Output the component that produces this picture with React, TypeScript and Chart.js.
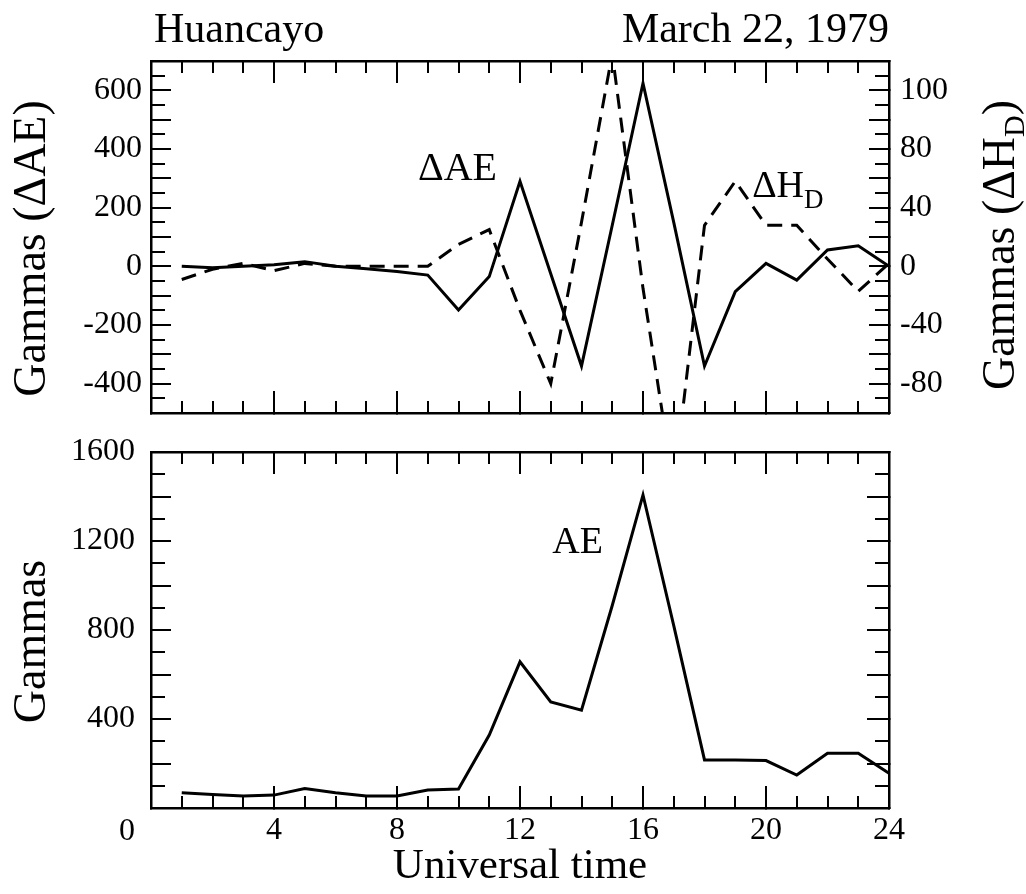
import React, { useEffect, useRef } from "react";
import { Chart, registerables } from "chart.js";

Chart.register(...registerables);

// ---------------- data ----------------
const hours = [1, 2, 3, 4, 5, 6, 7, 8, 9, 10, 11, 12, 13, 14, 15, 16, 17, 18, 19, 20, 21, 22, 23, 24];
const deltaAE = [0, -5, 0, 5, 16, 0, -8, -18, -30, -149, -35, 290, -25, -340, 140, 624, 150, -340, -86, 10, -47, 56, 70, 0];
const deltaHD = [-9, -2, 2, -3, 2, 0, 0, 0, 0, 15, 25, -30, -80, 30, 145, -15, -150, 28, 58, 28, 28, 5, -17, 2];
const aeValues = [69, 61, 54, 58, 88, 69, 54, 54, 81, 85, 328, 657, 477, 440, 910, 1407, 820, 216, 216, 213, 148, 246, 246, 156];

const xTickValues = [4, 8, 12, 16, 20, 24];
const xTickLabels = ["4", "8", "12", "16", "20", "24"];
const dAETickValues = [-400, -200, 0, 200, 400, 600];
const dAETickLabels = ["-400", "-200", "0", "200", "400", "600"];
const dHTickValues = [-80, -40, 0, 40, 80, 120];
const dHTickLabels = ["-80", "-40", "0", "40", "80", "100"];
const aeTickValues = [0, 400, 800, 1200, 1600];
const aeTickLabels = ["0", "400", "800", "1200", "1600"];

const stationLabel = "Huancayo";
const dateLabel = "March 22, 1979";
const xTitle = "Universal time";
const topLeftTitle = "Gammas (\u0394AE)";
const bottomLeftTitle = "Gammas";
const rightTitleMain = "Gammas (\u0394H";
const rightTitleSub = "D";
const rightTitleEnd = ")";
const dAELabel = "\u0394AE";
const dHLabel = "\u0394H";
const dHLabelSub = "D";
const aeLabel = "AE";

// ---------------- styling ----------------
const FONT = "'Liberation Serif', 'Times New Roman', serif";
const TICK_SIZE = 32;
const TITLE_SIZE = 46;
const HEADER_SIZE = 42;
const NOTE_SIZE = 38;
// trailing spacing nudges the centred rotated titles slightly downward, as in the original
const TITLE_NUDGE = "  ";

type Labels = { values: number[]; texts: string[] } | null;

function makeAxis(c: {
  axis: "x" | "y";
  position: string;
  min: number;
  max: number;
  step: number;
  len: number;
  size: number;
  weight: number;
  border?: boolean;
  labels?: Labels;
  labelPad?: number;
  title?: { text: string; size: number; pad: any } | null;
  lowerZero?: boolean;
}) {
  const labels = c.labels || null;
  return {
    type: "linear",
    axis: c.axis,
    position: c.position,
    min: c.min,
    max: c.max,
    weight: c.weight,
    afterFit: (s: any) => {
      if (c.axis === "x") s.height = c.size;
      else s.width = c.size;
      s.paddingTop = 0;
      s.paddingBottom = 0;
      s.paddingLeft = 0;
      s.paddingRight = 0;
    },
    grid: {
      display: true,
      drawOnChartArea: false,
      drawTicks: true,
      tickLength: -c.len,
      color: "#000",
      tickColor: "#000",
      lineWidth: 2,
      tickWidth: 2,
    },
    border: { display: !!c.border, color: "#000", width: 2.5 },
    ticks: {
      stepSize: c.step,
      autoSkip: false,
      maxRotation: 0,
      minRotation: 0,
      display: !!labels,
      padding: c.labelPad ?? 0,
      color: "#000",
      font: { family: FONT, size: TICK_SIZE, lineHeight: 1.45 },
      callback: (v: number) => {
        if (!labels) return "";
        const i = labels.values.indexOf(v);
        if (i < 0) return "";
        if (c.lowerZero && v === 0) return ["", labels.texts[i]];
        return labels.texts[i];
      },
    },
    title: c.title
      ? {
          display: true,
          text: c.title.text,
          color: "#000",
          font: { family: FONT, size: c.title.size, lineHeight: 1.2 },
          padding: c.title.pad,
        }
      : { display: false },
  };
}

function textPlugin(id: string, draw: (chart: any, ctx: CanvasRenderingContext2D) => void) {
  return {
    id,
    afterDraw(chart: any) {
      const ctx = chart.ctx as CanvasRenderingContext2D;
      ctx.save();
      ctx.fillStyle = "#000";
      draw(chart, ctx);
      ctx.restore();
    },
  };
}

const W = 1026;
const TOP_H = 432;
const BOT_H = 462;
const PLOT_LEFT = 151;
const PLOT_RIGHT = 889;

function topConfig(): any {
  return {
    type: "line",
    data: {
      labels: hours,
      datasets: [
        {
          label: "\u0394AE",
          data: hours.map((h, i) => ({ x: h, y: deltaAE[i] })),
          xAxisID: "x",
          yAxisID: "y",
          borderColor: "#000",
          borderWidth: 3,
          pointRadius: 0,
          tension: 0,
          clip: 0,
        },
        {
          label: "\u0394HD",
          data: hours.map((h, i) => ({ x: h, y: deltaHD[i] })),
          xAxisID: "x",
          yAxisID: "y2",
          borderColor: "#000",
          borderWidth: 3,
          borderDash: [15, 9],
          pointRadius: 0,
          tension: 0,
          clip: 0,
        },
      ],
    },
    options: {
      responsive: false,
      animation: false,
      events: [],
      layout: { padding: 0 },
      plugins: { legend: { display: false }, tooltip: { enabled: false }, title: { display: false } },
      scales: {
        x: makeAxis({ axis: "x", position: "bottom", min: 0, max: 24, step: 4, len: 22, size: TOP_H - 413, weight: 1, border: true }),
        xMinor: makeAxis({ axis: "x", position: "bottom", min: 0, max: 24, step: 1, len: 12, size: 0, weight: 0 }),
        xTop: makeAxis({ axis: "x", position: "top", min: 0, max: 24, step: 4, len: 22, size: 61, weight: 1, border: true }),
        xTopMinor: makeAxis({ axis: "x", position: "top", min: 0, max: 24, step: 1, len: 12, size: 0, weight: 0 }),
        y: makeAxis({
          axis: "y", position: "left", min: -500, max: 700, step: 100, len: 20, size: PLOT_LEFT, weight: 1, border: true,
          labels: { values: dAETickValues, texts: dAETickLabels }, labelPad: 29,
          title: { text: topLeftTitle + TITLE_NUDGE, size: TITLE_SIZE, pad: { top: 5, bottom: 0 } },
        }),
        yMinor: makeAxis({ axis: "y", position: "left", min: -500, max: 700, step: 50, len: 14, size: 0, weight: 0 }),
        y2: makeAxis({
          axis: "y", position: "right", min: -100, max: 140, step: 20, len: 20, size: W - PLOT_RIGHT, weight: 1, border: true,
          labels: { values: dHTickValues, texts: dHTickLabels }, labelPad: 31,
        }),
        y2Minor: makeAxis({ axis: "y", position: "right", min: -100, max: 140, step: 10, len: 14, size: 0, weight: 0 }),
      },
    },
    plugins: [
      textPlugin("topTexts", (chart, ctx) => {
        const { chartArea, scales } = chart;
        ctx.textBaseline = "alphabetic";
        ctx.font = `${HEADER_SIZE}px ${FONT}`;
        ctx.textAlign = "left";
        ctx.fillText(stationLabel, chartArea.left + 3, 42);
        ctx.textAlign = "right";
        ctx.fillText(dateLabel, chartArea.right, 42);

        // series annotations, placed in data coordinates
        ctx.textAlign = "left";
        ctx.font = `40px ${FONT}`;
        ctx.fillText(dAELabel, scales.x.getPixelForValue(8.68), scales.y.getPixelForValue(294));
        ctx.font = `${NOTE_SIZE}px ${FONT}`;
        const hx = scales.x.getPixelForValue(19.55);
        const hy = scales.y.getPixelForValue(236);
        ctx.fillText(dHLabel, hx, hy);
        const hw = ctx.measureText(dHLabel).width;
        ctx.font = `27px ${FONT}`;
        ctx.fillText(dHLabelSub, hx + hw, hy + 11);

        // right axis title (reads upward, with subscript)
        ctx.save();
        ctx.translate(1000, (chartArea.top + chartArea.bottom) / 2 + 8);
        ctx.rotate(-Math.PI / 2);
        ctx.font = `${TITLE_SIZE}px ${FONT}`;
        const w1 = ctx.measureText(rightTitleMain).width;
        const w3 = ctx.measureText(rightTitleEnd).width;
        ctx.font = `30px ${FONT}`;
        const w2 = ctx.measureText(rightTitleSub).width;
        let x = -(w1 + w2 + w3) / 2;
        const base = 14;
        ctx.textAlign = "left";
        ctx.font = `${TITLE_SIZE}px ${FONT}`;
        ctx.fillText(rightTitleMain, x, base);
        x += w1;
        ctx.font = `30px ${FONT}`;
        ctx.fillText(rightTitleSub, x, base + 10);
        x += w2;
        ctx.font = `${TITLE_SIZE}px ${FONT}`;
        ctx.fillText(rightTitleEnd, x, base);
        ctx.restore();
      }),
    ],
  };
}

function bottomConfig(): any {
  const plotBottom = 808 - TOP_H;
  return {
    type: "line",
    data: {
      labels: hours,
      datasets: [
        {
          label: "AE",
          data: hours.map((h, i) => ({ x: h, y: aeValues[i] })),
          xAxisID: "x",
          yAxisID: "y",
          borderColor: "#000",
          borderWidth: 3,
          pointRadius: 0,
          tension: 0,
          clip: 0,
        },
      ],
    },
    options: {
      responsive: false,
      animation: false,
      events: [],
      layout: { padding: 0 },
      plugins: { legend: { display: false }, tooltip: { enabled: false }, title: { display: false } },
      scales: {
        x: makeAxis({
          axis: "x", position: "bottom", min: 0, max: 24, step: 4, len: 22, size: BOT_H - plotBottom, weight: 1, border: true,
          labels: { values: xTickValues, texts: xTickLabels }, labelPad: 21,
          title: { text: xTitle, size: 43, pad: { top: 0, bottom: 1 } },
        }),
        xMinor: makeAxis({ axis: "x", position: "bottom", min: 0, max: 24, step: 1, len: 12, size: 0, weight: 0 }),
        xTop: makeAxis({ axis: "x", position: "top", min: 0, max: 24, step: 4, len: 22, size: 452 - TOP_H, weight: 1, border: true }),
        xTopMinor: makeAxis({ axis: "x", position: "top", min: 0, max: 24, step: 1, len: 12, size: 0, weight: 0 }),
        y: makeAxis({
          axis: "y", position: "left", min: 0, max: 1600, step: 200, len: 20, size: PLOT_LEFT, weight: 1, border: true,
          labels: { values: aeTickValues, texts: aeTickLabels }, labelPad: 36, lowerZero: true,
          title: { text: bottomLeftTitle + TITLE_NUDGE, size: TITLE_SIZE, pad: { top: 5, bottom: 0 } },
        }),
        yMinor: makeAxis({ axis: "y", position: "left", min: 0, max: 1600, step: 100, len: 14, size: 0, weight: 0 }),
        y2: makeAxis({ axis: "y", position: "right", min: 0, max: 1600, step: 200, len: 22, size: W - PLOT_RIGHT, weight: 1, border: true }),
        y2Minor: makeAxis({ axis: "y", position: "right", min: 0, max: 1600, step: 100, len: 14, size: 0, weight: 0 }),
      },
    },
    plugins: [
      textPlugin("bottomTexts", (chart, ctx) => {
        const { scales } = chart;
        ctx.textBaseline = "alphabetic";
        ctx.textAlign = "left";
        ctx.font = `${NOTE_SIZE}px ${FONT}`;
        ctx.fillText(aeLabel, scales.x.getPixelForValue(13.05), scales.y.getPixelForValue(1146));
      }),
    ],
  };
}

export default function App() {
  const topRef = useRef<HTMLCanvasElement>(null);
  const botRef = useRef<HTMLCanvasElement>(null);

  useEffect(() => {
    const top = new Chart(topRef.current as HTMLCanvasElement, topConfig());
    const bot = new Chart(botRef.current as HTMLCanvasElement, bottomConfig());
    return () => {
      top.destroy();
      bot.destroy();
    };
  }, []);

  return (
    <div style={{ position: "absolute", left: 0, top: 0, width: W, height: TOP_H + BOT_H, background: "#fff" }}>
      <canvas
        ref={topRef}
        width={W}
        height={TOP_H}
        style={{ position: "absolute", left: 0, top: 0, width: W, height: TOP_H }}
      />
      <canvas
        ref={botRef}
        width={W}
        height={BOT_H}
        style={{ position: "absolute", left: 0, top: TOP_H, width: W, height: BOT_H }}
      />
    </div>
  );
}
